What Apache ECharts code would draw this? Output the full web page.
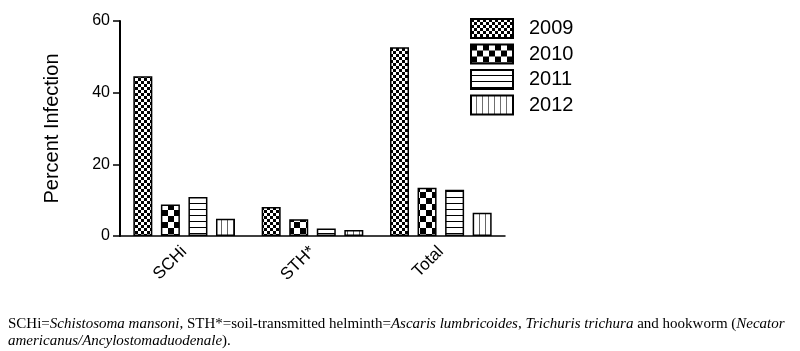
<!DOCTYPE html>
<html>
<head>
<meta charset="utf-8">
<script src="https://cdn.jsdelivr.net/npm/echarts@6/dist/echarts.min.js"></script>
<style>
  html, body { margin: 0; padding: 0; background: #fff; }
  #chart { width: 800px; height: 351px; }
</style>
</head>
<body>
<div id="chart"></div>
<script>
var categories = ['SCHi', 'STH*', 'Total'];
var years = ['2009', '2010', '2011', '2012'];
var values2009 = [44.6, 8.1, 52.7];
var values2010 = [8.8, 4.7, 13.5];
var values2011 = [10.9, 2.1, 12.9];
var values2012 = [4.8, 1.7, 6.5];
var yTicks = [0, 20, 40, 60];

// pattern fills drawn on small canvases
function makePattern(kind) {
  var c = document.createElement('canvas');
  var ctx = c.getContext('2d');
  if (kind == 'fine') {
    c.width = 6; c.height = 6;
    ctx.fillStyle = '#fff'; ctx.fillRect(0, 0, 6, 6);
    ctx.fillStyle = '#000';
    ctx.fillRect(0, 0, 3, 3); ctx.fillRect(3, 3, 3, 3);
  } else if (kind == 'coarse') {
    c.width = 12; c.height = 12;
    ctx.fillStyle = '#fff'; ctx.fillRect(0, 0, 12, 12);
    ctx.fillStyle = '#000';
    ctx.fillRect(0, 0, 6, 6); ctx.fillRect(6, 6, 6, 6);
  } else if (kind == 'hline') {
    c.width = 6; c.height = 6;
    ctx.fillStyle = '#fff'; ctx.fillRect(0, 0, 6, 6);
    ctx.fillStyle = '#000'; ctx.fillRect(0, 5, 6, 1);
  } else {
    c.width = 6; c.height = 6;
    ctx.fillStyle = '#fff'; ctx.fillRect(0, 0, 6, 6);
    ctx.fillStyle = '#666'; ctx.fillRect(5, 0, 1, 6);
  }
  return { image: c, repeat: 'repeat' };
}

var patterns = [makePattern('fine'), makePattern('coarse'), makePattern('hline'), makePattern('vline')];
var seriesData = [values2009, values2010, values2011, values2012];

var series = [];
for (let i = 0; i < years.length; i++) {
  series.push({
    name: years[i],
    type: 'bar',
    data: seriesData[i],
    barWidth: 19,
    barGap: '45%',
    itemStyle: { color: patterns[i], borderColor: '#000', borderWidth: 1.5 }
  });
}

var chart = echarts.init(document.getElementById('chart'), null, { renderer: 'canvas' });

var option = {
  animation: false,
  textStyle: { fontFamily: 'Liberation Sans, Arial' },
  grid: { left: 120, right: 295, top: 21, bottom: 115, containLabel: false },
  legend: {
    orient: 'vertical',
    left: 465,
    top: 13,
    itemWidth: 42,
    itemHeight: 19,
    itemGap: 4.5,
    icon: 'rect',
    textStyle: { fontSize: 20, color: '#000', padding: [0, 0, 0, 11] },
    data: years
  },
  xAxis: {
    type: 'category',
    data: categories,
    axisLine: { lineStyle: { color: '#000', width: 1.5 } },
    axisTick: { alignWithLabel: true, length: 7, lineStyle: { color: '#000', width: 1.5 } },
    axisLabel: { rotate: 45, fontSize: 17, color: '#000', margin: 13 }
  },
  yAxis: {
    type: 'value',
    min: yTicks[0],
    max: yTicks[yTicks.length - 1],
    interval: 20,
    name: 'Percent Infection',
    nameLocation: 'middle',
    nameGap: 58,
    nameTextStyle: { fontSize: 20, color: '#000' },
    splitLine: { show: false },
    axisLine: { show: true, lineStyle: { color: '#000', width: 2 } },
    axisTick: { show: true, length: 7, lineStyle: { color: '#000', width: 1.5 } },
    axisLabel: { fontSize: 16, color: '#000', margin: 10 }
  },
  graphic: [{
    type: 'text',
    left: 8,
    top: 317,
    style: {
      text: '{n|SCHi=}{i|Schistosoma mansoni}{n|, STH*=soil-transmitted helminth=}{i|Ascaris lumbricoides}{n|, }{i|Trichuris trichura}{n| and hookworm (}{i|Necator}\n{i|americanus/Ancylostomaduodenale}{n|).}',
      rich: {
        n: { fontFamily: 'Liberation Serif', fontSize: 15, lineHeight: 17, fill: '#000' },
        i: { fontFamily: 'Liberation Serif', fontSize: 15, fontStyle: 'italic', lineHeight: 17, fill: '#000' }
      }
    }
  }],
  series: series
};

chart.setOption(option);
</script>
</body>
</html>
